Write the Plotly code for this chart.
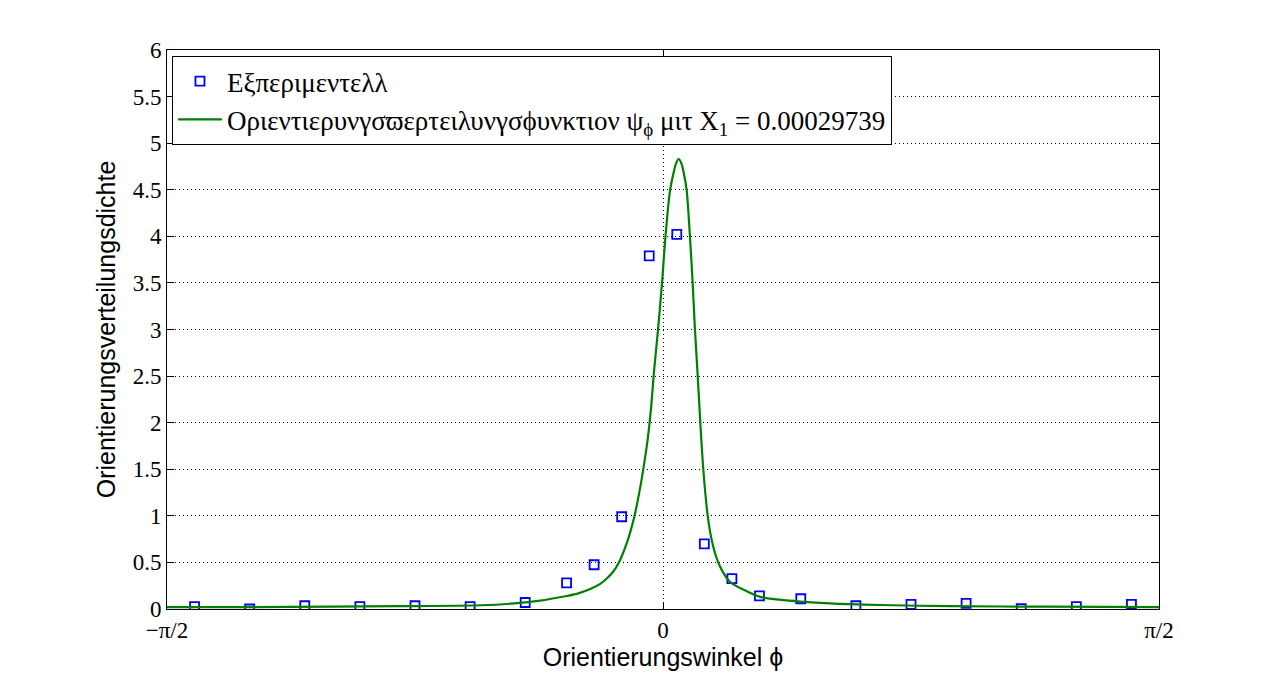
import numpy as np
import plotly.graph_objects as go

# Experimental points (angle in degrees, density)
exp_deg = [-85, -75, -65, -55, -45, -35, -25, -17.5, -12.5, -7.5, -2.5,
           2.5, 7.5, 12.5, 17.5, 25, 35, 45, 55, 65, 75, 85]
exp_val = [0.025, 0.0, 0.035, 0.025, 0.035, 0.025, 0.07, 0.28, 0.475, 0.99, 3.79,
           4.02, 0.70, 0.325, 0.14, 0.11, 0.035, 0.05, 0.06, 0.005, 0.025, 0.05]

# Fitted distribution function (degrees, density)
fit_deg = [-90, -75, -60, -48, -33, -27, -22.3, -17.5, -15.5, -13.0, -11.4, -10.15, -9.05,
           -8.0, -6.5, -5.25, -4.15, -3.45, -2.72, -2.18, -1.63, -0.9, -0.18, 0.45,
           1.27, 1.87, 2.35, 2.85, 3.35, 3.8, 4.3, 4.9, 5.39, 5.8, 6.3, 6.77, 7.31,
           8.11, 8.84, 9.7, 10.65, 12.16, 15.2, 17.6, 21.2, 24.9, 30.3, 39.4, 52, 70, 90]
fit_val = [0.02, 0.02, 0.025, 0.03, 0.04, 0.06, 0.09, 0.14, 0.165, 0.22, 0.27, 0.33, 0.40,
           0.50, 0.72, 0.98, 1.30, 1.55, 1.85, 2.15, 2.55, 3.0, 3.5, 4.0,
           4.49, 4.67, 4.78, 4.83, 4.78, 4.67, 4.49, 3.99, 3.49, 3.0, 2.5, 2.0, 1.5,
           1.0, 0.74, 0.55, 0.42, 0.29, 0.19, 0.13, 0.10, 0.08, 0.06, 0.043, 0.03, 0.025, 0.02]

x_tickvals_deg = [-90, 0, 90]
x_ticktext = ["\u2212\u03c0/2", "0", "\u03c0/2"]
y_tickvals = [0, 0.5, 1, 1.5, 2, 2.5, 3, 3.5, 4, 4.5, 5, 5.5, 6]
y_ticktext = ["0", "0.5", "1", "1.5", "2", "2.5", "3", "3.5", "4", "4.5", "5", "5.5", "6"]

name_exp = "\u0395\u03be\u03c0\u03b5\u03c1\u03b9\u03bc\u03b5\u03bd\u03c4\u03b5\u03bb\u03bb"
name_fit = ("\u039f\u03c1\u03b9\u03b5\u03bd\u03c4\u03b9\u03b5\u03c1\u03c5\u03bd\u03b3\u03c3"
            "\u03d6\u03b5\u03c1\u03c4\u03b5\u03b9\u03bb\u03c5\u03bd\u03b3\u03c3\u03d5\u03c5\u03bd"
            "\u03ba\u03c4\u03b9\u03bf\u03bd \u03c8<sub>\u03d5</sub> \u03bc\u03b9\u03c4 "
            "\u03a7<sub>1</sub> = 0.00029739")

rad = np.pi / 180.0

fig = go.Figure()
fig.add_trace(go.Scatter(
    x=np.array(exp_deg) * rad, y=exp_val, mode="markers", name=name_exp,
    marker=dict(symbol="square-open", size=9, color="#0000ff",
                line=dict(width=1.8, color="#0000ff")),
))
fig.add_trace(go.Scatter(
    x=np.array(fit_deg) * rad, y=fit_val, mode="lines", name=name_fit,
    line=dict(color="#008000", width=2.2, shape="spline", smoothing=0.8),
))

serif = "Liberation Serif, Times New Roman, serif"
sans = "Liberation Sans, Arial, sans-serif"

# The page body adds an 8px offset, so the figure is sized 1273x676.
fig.update_layout(
    width=1273, height=676,
    margin=dict(l=159, r=122, t=42, b=75),
    paper_bgcolor="white", plot_bgcolor="white",
    showlegend=True,
    legend=dict(x=0.005, y=0.989, xanchor="left", yanchor="top",
                bgcolor="white", bordercolor="black", borderwidth=1,
                font=dict(family=serif, size=27, color="black"),
                itemwidth=44, tracegroupgap=0),
    xaxis=dict(
        range=[-np.pi / 2, np.pi / 2], automargin=False,
        tickvals=np.array(x_tickvals_deg) * rad, ticktext=x_ticktext,
        tickfont=dict(family=serif, size=23, color="black"),
        ticks="inside", ticklen=7, tickcolor="black",
        showline=True, linecolor="black", linewidth=1, mirror="ticks",
        showgrid=True, gridcolor="black", gridwidth=1, griddash="1px,3px",
        zeroline=False,
        title=dict(text="Orientierungswinkel \u03d5",
                   font=dict(family=sans, size=25, color="black"), standoff=2),
    ),
    yaxis=dict(
        range=[0, 6], automargin=False,
        tickvals=y_tickvals, ticktext=y_ticktext,
        tickfont=dict(family=serif, size=23, color="black"),
        ticks="inside", ticklen=7, tickcolor="black",
        showline=True, linecolor="black", linewidth=1, mirror="ticks",
        showgrid=True, gridcolor="black", gridwidth=1, griddash="1px,3px",
        zeroline=False,
        title=dict(text="Orientierungsverteilungsdichte",
                   font=dict(family=sans, size=25, color="black"), standoff=9),
    ),
)

fig.write_html("out.html")
